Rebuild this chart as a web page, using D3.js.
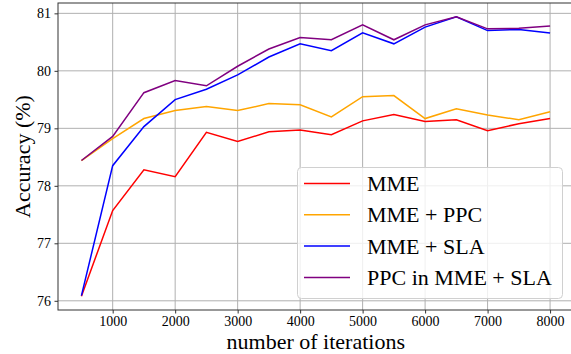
<!DOCTYPE html>
<html>
<head>
<meta charset="utf-8">
<script src="https://cdn.jsdelivr.net/npm/d3@7"></script>
<style>
  body { margin: 0; background: #fff; }
  svg { display: block; font-family: "Liberation Serif", "Times New Roman", serif; }
  svg text { font-family: "Liberation Serif", "Times New Roman", serif; }
</style>
</head>
<body>
<div id="chart"></div>
<script>
const iterations = [500, 1000, 1500, 2000, 2500, 3000, 3500, 4000, 4500, 5000, 5500, 6000, 6500, 7000, 7500, 8000]
const mme = [76.08, 77.57, 78.28, 78.16, 78.93, 78.77, 78.94, 78.97, 78.89, 79.13, 79.24, 79.12, 79.15, 78.96, 79.08, 79.17]
const mmePpc = [78.44, 78.82, 79.17, 79.31, 79.38, 79.31, 79.43, 79.41, 79.20, 79.55, 79.57, 79.17, 79.34, 79.23, 79.15, 79.29]
const mmeSla = [76.09, 78.35, 79.03, 79.50, 79.68, 79.93, 80.24, 80.47, 80.35, 80.66, 80.47, 80.76, 80.94, 80.70, 80.72, 80.66]
const ppcMmeSla = [78.44, 78.86, 79.62, 79.83, 79.74, 80.08, 80.38, 80.58, 80.54, 80.80, 80.54, 80.80, 80.94, 80.73, 80.74, 80.78]
const seriesNames = ["MME", "MME + PPC", "MME + SLA", "PPC in MME + SLA"]
const seriesColors = ["red", "orange", "blue", "purple"]
const xTicks = [1000, 2000, 3000, 4000, 5000, 6000, 7000, 8000]
const yTicks = [76, 77, 78, 79, 80, 81]

const width = 571, height = 354
const margin = { top: 3, left: 58, right: -2.5, bottom: 44 }
const innerW = width - margin.left - margin.right
const innerH = height - margin.top - margin.bottom
const serif = "'Liberation Serif', 'Times New Roman', serif"

const series = [mme, mmePpc, mmeSla, ppcMmeSla]

const svg = d3.select("#chart").append("svg")
  .attr("width", width)
  .attr("height", height)

const g = svg.append("g")
  .attr("transform", `translate(${margin.left},${margin.top})`)

const xScale = d3.scaleLinear().domain([125, 8375]).range([0, innerW])
const yScale = d3.scaleLinear().domain([75.84, 81.18]).range([innerH, 0])

// grid
g.append("g").selectAll("line").data(xTicks).join("line")
  .attr("x1", d => xScale(d)).attr("x2", d => xScale(d))
  .attr("y1", 0).attr("y2", innerH)
  .attr("stroke", "#b0b0b0").attr("stroke-width", 1)
g.append("g").selectAll("line").data(yTicks).join("line")
  .attr("y1", d => yScale(d)).attr("y2", d => yScale(d))
  .attr("x1", 0).attr("x2", innerW)
  .attr("stroke", "#b0b0b0").attr("stroke-width", 1)

// lines
const line = d3.line()
  .x((d, i) => xScale(iterations[i]))
  .y(d => yScale(d))

g.append("g").selectAll("path").data(series).join("path")
  .attr("d", d => line(d))
  .attr("fill", "none")
  .attr("stroke", (d, i) => seriesColors[i])
  .attr("stroke-width", 1.5)

// spines
g.append("rect")
  .attr("x", 0).attr("y", 0)
  .attr("width", innerW).attr("height", innerH)
  .attr("fill", "none").attr("stroke", "#333").attr("stroke-width", 1)

// axes
const xAxis = g.append("g")
  .attr("transform", `translate(0,${innerH})`)
  .call(d3.axisBottom(xScale).tickValues(xTicks).tickSize(3.5).tickPadding(3).tickFormat(d3.format("d")))
const yAxis = g.append("g")
  .call(d3.axisLeft(yScale).tickValues(yTicks).tickSize(3.5).tickPadding(3.5).tickFormat(d3.format("d")))

for (const ax of [xAxis, yAxis]) {
  ax.attr("font-family", serif).attr("font-size", 14)
  ax.select(".domain").remove()
  ax.selectAll(".tick line").attr("stroke", "#333")
  ax.selectAll(".tick text").attr("fill", "#000")
}

// axis labels
svg.append("text")
  .attr("x", margin.left + innerW / 2)
  .attr("y", 349)
  .attr("text-anchor", "middle")
  .attr("font-size", 22)
  .text("number of iterations")

svg.append("text")
  .attr("transform", `translate(30,${margin.top + innerH / 2}) rotate(-90)`)
  .attr("text-anchor", "middle")
  .attr("font-size", 22)
  .text("Accuracy (%)")

// legend
const legend = svg.append("g").attr("transform", "translate(297,167)")
legend.append("rect")
  .attr("x", 0.5).attr("y", 0.5)
  .attr("width", 265).attr("height", 131)
  .attr("rx", 4)
  .attr("fill", "rgba(255,255,255,0.8)")
  .attr("stroke", "#d0d0d0")

const rows = legend.selectAll("g.row").data(seriesNames).join("g")
  .attr("class", "row")
  .attr("transform", (d, i) => `translate(0,${16.5 + i * 31.3})`)
rows.append("line")
  .attr("x1", 7).attr("x2", 53)
  .attr("stroke", (d, i) => seriesColors[i])
  .attr("stroke-width", 1.5)
rows.append("text")
  .attr("x", 70)
  .attr("y", 7.5)
  .attr("font-size", 22)
  .text(d => d)
</script>
</body>
</html>
